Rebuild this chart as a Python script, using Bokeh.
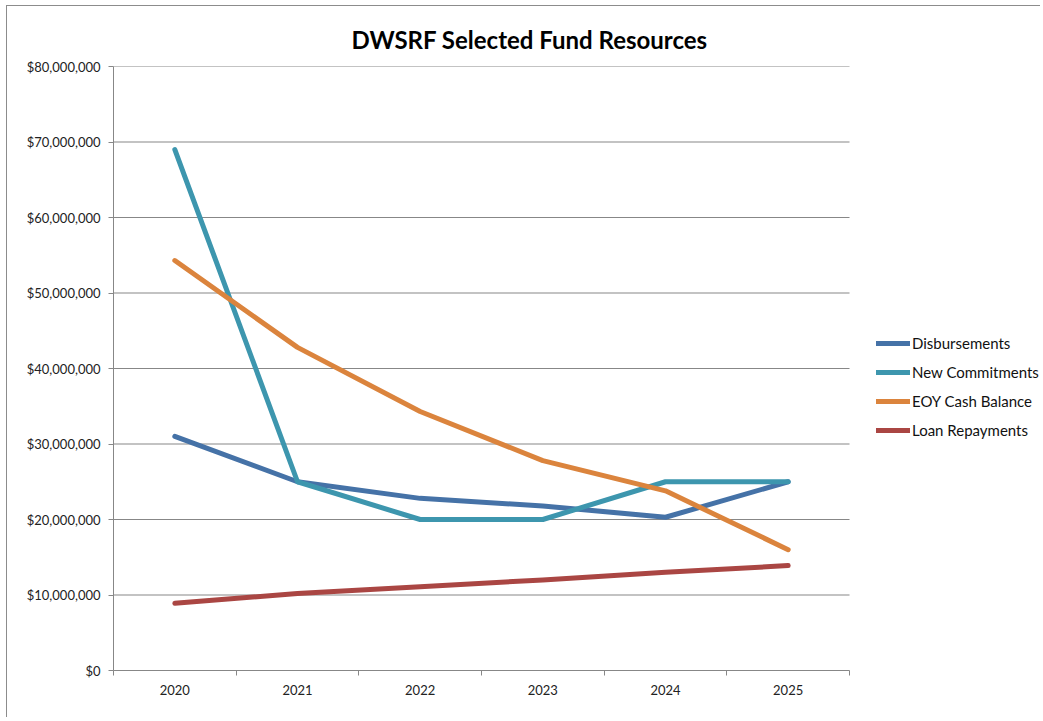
from bokeh.plotting import figure
from bokeh.models import (FixedTicker, NumeralTickFormatter, Range1d, Legend, LegendItem, Title)
from bokeh.embed import file_html
from bokeh.resources import INLINE

years = ["2020", "2021", "2022", "2023", "2024", "2025"]
disbursements = [31.0e6, 25.0e6, 22.8e6, 21.8e6, 20.3e6, 25.0e6]
new_commitments = [69.0e6, 25.0e6, 20.0e6, 20.0e6, 25.0e6, 25.0e6]
eoy_cash = [54.3e6, 42.8e6, 34.3e6, 27.8e6, 23.8e6, 16.0e6]
loan_repayments = [8.9e6, 10.2e6, 11.1e6, 12.0e6, 13.0e6, 13.9e6]
y_ticks = [0, 10e6, 20e6, 30e6, 40e6, 50e6, 60e6, 70e6, 80e6]

series_names = ["Disbursements", "New Commitments", "EOY Cash Balance", "Loan Repayments"]
series_values = [disbursements, new_commitments, eoy_cash, loan_repayments]
colors = ["#4572A7", "#3D96AE", "#DB843D", "#AA4643"]

n = len(years)
xs = [i + 0.5 for i in range(n)]

FONT = "Lato"
GRAY = "#878787"

W, H = 1034, 712
LEFT, RIGHT, TOP, BOTTOM = 106, 2, 60, 48
plot_px = 736.0  # width of the category area in pixels
frame_w = W - LEFT - RIGHT
x_end = n * frame_w / plot_px

p = figure(width=W, height=H, output_backend="svg", toolbar_location=None,
           x_range=Range1d(0, x_end), y_range=Range1d(0, y_ticks[-1]),
           min_border_left=LEFT, min_border_right=RIGHT, min_border_top=TOP,
           min_border_bottom=BOTTOM)
p.styles = {"border-left": "1px solid #8c8c8c", "border-top": "1px solid #8c8c8c",
            "margin-left": "6px", "margin-top": "5px"}
p.outline_line_color = None
p.background_fill_color = "white"
p.border_fill_color = "white"

p.title = Title(text="DWSRF Selected Fund Resources", align="left",
                text_font=FONT, text_font_size="24px", text_font_style="bold",
                text_color="#000000", offset=238, standoff=26)

# x axis
xa = p.xaxis[0]
xa.bounds = (0, n)
xa.ticker = FixedTicker(ticks=xs, minor_ticks=list(range(n + 1)))
xa.major_label_overrides = {x: y for x, y in zip(xs, years)}
xa.major_tick_out = 0
xa.major_tick_in = 0
xa.minor_tick_out = 5
xa.minor_tick_in = 0
xa.minor_tick_line_color = GRAY
xa.axis_line_color = GRAY
xa.major_label_text_font = FONT
xa.major_label_text_font_size = "13px"
xa.major_label_text_color = "#222222"
xa.major_label_standoff = 9

# y axis
ya = p.yaxis[0]
ya.ticker = FixedTicker(ticks=y_ticks)
ya.formatter = NumeralTickFormatter(format="$0,0")
ya.major_tick_out = 5
ya.major_tick_in = 0
ya.minor_tick_out = 0
ya.minor_tick_in = 0
ya.major_tick_line_color = GRAY
ya.axis_line_color = GRAY
ya.major_label_text_font = FONT
ya.major_label_text_font_size = "13px"
ya.major_label_text_color = "#222222"
ya.major_label_standoff = 8

p.xgrid.grid_line_color = None
p.ygrid.grid_line_color = None
# horizontal gridlines limited to the category area
p.segment(x0=[0] * (len(y_ticks) - 1), x1=[n] * (len(y_ticks) - 1),
          y0=y_ticks[1:], y1=y_ticks[1:], line_color=GRAY, line_width=1)

items = []
for name, vals, col in zip(series_names, series_values, colors):
    r = p.line(xs, vals, line_color=col, line_width=5, line_cap="round", line_join="round")
    items.append(LegendItem(label=name, renderers=[r]))

legend = Legend(items=items, location=(763, 230), orientation="vertical",
                glyph_width=34, glyph_height=20, spacing=9, label_standoff=2,
                padding=0, margin=0, border_line_color=None, background_fill_alpha=0,
                label_text_font=FONT, label_text_font_size="15px",
                label_text_color="#111111")
p.add_layout(legend, "center")

open("out.html", "w").write(file_html(p, INLINE))
